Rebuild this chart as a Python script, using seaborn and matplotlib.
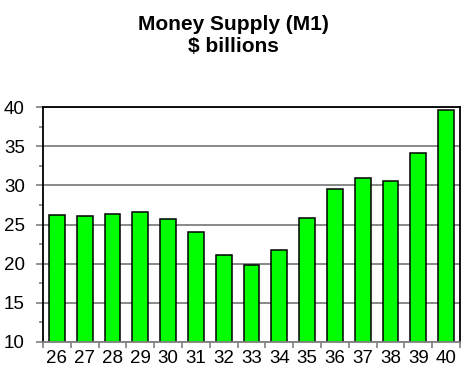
import matplotlib
matplotlib.use("Agg")
import matplotlib.pyplot as plt
import seaborn as sns
import numpy as np
import pandas as pd

years = ["26", "27", "28", "29", "30", "31", "32", "33", "34", "35", "36", "37", "38", "39", "40"]
money_supply = [26.2, 26.1, 26.3, 26.6, 25.7, 24.1, 21.1, 19.8, 21.8, 25.8, 29.5, 30.9, 30.6, 34.1, 39.6]
y_ticks = [10, 15, 20, 25, 30, 35, 40]

sns.set_style("white")
plt.rcParams['font.family'] = ['Liberation Sans', 'DejaVu Sans']
plt.rcParams['text.color'] = 'black'
plt.rcParams['xtick.color'] = 'black'
plt.rcParams['ytick.color'] = 'black'

df = pd.DataFrame({"year": years, "value": money_supply})

fig = plt.figure(figsize=(4.73, 3.82), dpi=100)
ax = fig.add_axes([43/473, 40/382, 417/473, 235/382])

sns.barplot(data=df, x="year", y="value", ax=ax, color="#00ff00",
            edgecolor="black", linewidth=1.1, width=0.57, saturation=1)

ax.set_ylim(10, 40)
ax.set_xlim(-0.5, len(years) - 0.5)
ax.set_yticks(y_ticks)
ax.set_yticks(np.arange(12.5, 40, 5), minor=True)
ax.set_yticklabels([str(v) for v in y_ticks], fontsize=13.5, color="black")
ax.set_xticks(range(len(years)))
ax.set_xticklabels(years, fontsize=13.5, color="black")
ax.set_xticks(np.arange(-0.5, len(years), 1), minor=True)

ax.set_xlabel("")
ax.set_ylabel("")
ax.set_axisbelow(True)
ax.yaxis.grid(True, color="#808080", linewidth=1.3)
ax.xaxis.grid(False)

ax.tick_params(axis="y", which="major", length=5, width=1.2, color="#808080", pad=8, left=True)
ax.tick_params(axis="y", which="minor", length=3, width=1.2, color="#808080", left=True)
ax.tick_params(axis="x", which="major", length=0, pad=6)
ax.tick_params(axis="x", which="minor", length=4, width=1.2, color="#808080", bottom=True)

for s in ["left", "right", "top"]:
    ax.spines[s].set_visible(True)
    ax.spines[s].set_color("black")
    ax.spines[s].set_linewidth(1.3)
ax.spines["bottom"].set_visible(True)
ax.spines["bottom"].set_color("#808080")
ax.spines["bottom"].set_linewidth(1.3)

fig.text(233/473, 1 - 25/382, "Money Supply (M1)", ha="center", va="center",
         fontsize=15, fontweight="bold", color="black")
fig.text(233/473, 1 - 46/382, "$ billions", ha="center", va="center",
         fontsize=15, fontweight="bold", color="black")

fig.savefig("out.png", dpi=100)
